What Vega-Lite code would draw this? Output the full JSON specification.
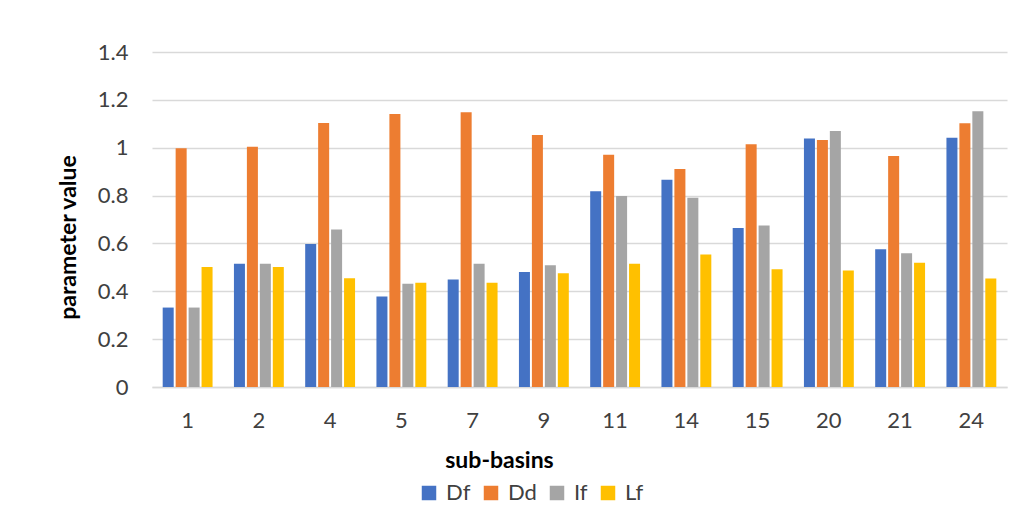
{
  "$schema": "https://vega.github.io/schema/vega-lite/v6.json",
  "width": 855,
  "height": 335,
  "autosize": {"type": "none"},
  "padding": {"left": 152, "top": 52, "right": 19, "bottom": 145},
  "background": "white",
  "config": {
    "font": "Lato",
    "view": {"stroke": null},
    "axis": {"labelFont": "Lato", "titleFont": "Lato"},
    "legend": {"labelFont": "Lato"}
  },
  "data": {
    "values": [
      {"basin": "1", "param": "Df", "value": 0.332},
      {"basin": "1", "param": "Dd", "value": 0.998},
      {"basin": "1", "param": "If", "value": 0.332},
      {"basin": "1", "param": "Lf", "value": 0.502},
      {"basin": "2", "param": "Df", "value": 0.515},
      {"basin": "2", "param": "Dd", "value": 1.004},
      {"basin": "2", "param": "If", "value": 0.515},
      {"basin": "2", "param": "Lf", "value": 0.502},
      {"basin": "4", "param": "Df", "value": 0.598},
      {"basin": "4", "param": "Dd", "value": 1.103},
      {"basin": "4", "param": "If", "value": 0.658},
      {"basin": "4", "param": "Lf", "value": 0.454},
      {"basin": "5", "param": "Df", "value": 0.378},
      {"basin": "5", "param": "Dd", "value": 1.141},
      {"basin": "5", "param": "If", "value": 0.431},
      {"basin": "5", "param": "Lf", "value": 0.436},
      {"basin": "7", "param": "Df", "value": 0.449},
      {"basin": "7", "param": "Dd", "value": 1.148},
      {"basin": "7", "param": "If", "value": 0.515},
      {"basin": "7", "param": "Lf", "value": 0.436},
      {"basin": "9", "param": "Df", "value": 0.481},
      {"basin": "9", "param": "Dd", "value": 1.053},
      {"basin": "9", "param": "If", "value": 0.509},
      {"basin": "9", "param": "Lf", "value": 0.475},
      {"basin": "11", "param": "Df", "value": 0.818},
      {"basin": "11", "param": "Dd", "value": 0.971},
      {"basin": "11", "param": "If", "value": 0.798},
      {"basin": "11", "param": "Lf", "value": 0.515},
      {"basin": "14", "param": "Df", "value": 0.866},
      {"basin": "14", "param": "Dd", "value": 0.911},
      {"basin": "14", "param": "If", "value": 0.791},
      {"basin": "14", "param": "Lf", "value": 0.554},
      {"basin": "15", "param": "Df", "value": 0.664},
      {"basin": "15", "param": "Dd", "value": 1.014},
      {"basin": "15", "param": "If", "value": 0.675},
      {"basin": "15", "param": "Lf", "value": 0.492},
      {"basin": "20", "param": "Df", "value": 1.038},
      {"basin": "20", "param": "Dd", "value": 1.032},
      {"basin": "20", "param": "If", "value": 1.070},
      {"basin": "20", "param": "Lf", "value": 0.487},
      {"basin": "21", "param": "Df", "value": 0.576},
      {"basin": "21", "param": "Dd", "value": 0.965},
      {"basin": "21", "param": "If", "value": 0.559},
      {"basin": "21", "param": "Lf", "value": 0.519},
      {"basin": "24", "param": "Df", "value": 1.042},
      {"basin": "24", "param": "Dd", "value": 1.102},
      {"basin": "24", "param": "If", "value": 1.152},
      {"basin": "24", "param": "Lf", "value": 0.453}
    ]
  },
  "mark": {"type": "bar"},
  "encoding": {
    "x": {
      "field": "basin",
      "type": "ordinal",
      "sort": null,
      "scale": {"paddingInner": 0.3, "paddingOuter": 0.15},
      "axis": {
        "title": "sub-basins",
        "titleFontSize": 23,
        "titleFontWeight": "bold",
        "titleColor": "#000000",
        "titleX": 347,
        "titleY": 73,
        "titleAnchor": "middle",
        "titleBaseline": "middle",
        "labelAngle": 0,
        "labelFontSize": 22,
        "labelColor": "#404040",
        "labelPadding": 33,
        "labelBaseline": "middle",
        "ticks": false,
        "tickSize": 0,
        "domainColor": "#d9d9d9",
        "domainWidth": 1.5,
        "grid": false
      }
    },
    "xOffset": {
      "field": "param",
      "type": "nominal",
      "sort": ["Df", "Dd", "If", "Lf"],
      "scale": {"paddingInner": 0.15}
    },
    "y": {
      "field": "value",
      "type": "quantitative",
      "scale": {"domain": [0, 1.4], "nice": false},
      "axis": {
        "title": "parameter value",
        "titleFontSize": 23,
        "titleFontWeight": "bold",
        "titleColor": "#000000",
        "titleX": -84,
        "titleY": 185,
        "titleAnchor": "middle",
        "titleBaseline": "middle",
        "values": [0, 0.2, 0.4, 0.6, 0.8, 1, 1.2, 1.4],
        "labelExpr": "datum.value === 0 ? '0' : format(datum.value, '.1~f')",
        "labelFontSize": 22,
        "labelColor": "#404040",
        "labelPadding": 24,
        "ticks": false,
        "tickSize": 0,
        "domain": false,
        "gridColor": "#d9d9d9",
        "gridWidth": 1.5
      }
    },
    "color": {
      "field": "param",
      "type": "nominal",
      "sort": ["Df", "Dd", "If", "Lf"],
      "scale": {
        "domain": ["Df", "Dd", "If", "Lf"],
        "range": ["#4472C4", "#ED7D31", "#A5A5A5", "#FFC000"]
      },
      "legend": {
        "title": null,
        "orient": "none",
        "direction": "horizontal",
        "legendX": 266,
        "legendY": 430,
        "symbolType": "square",
        "symbolSize": 210,
        "symbolStrokeWidth": 0,
        "labelFontSize": 22,
        "labelColor": "#404040",
        "labelOffset": 6,
        "columnPadding": 9
      }
    }
  }
}
